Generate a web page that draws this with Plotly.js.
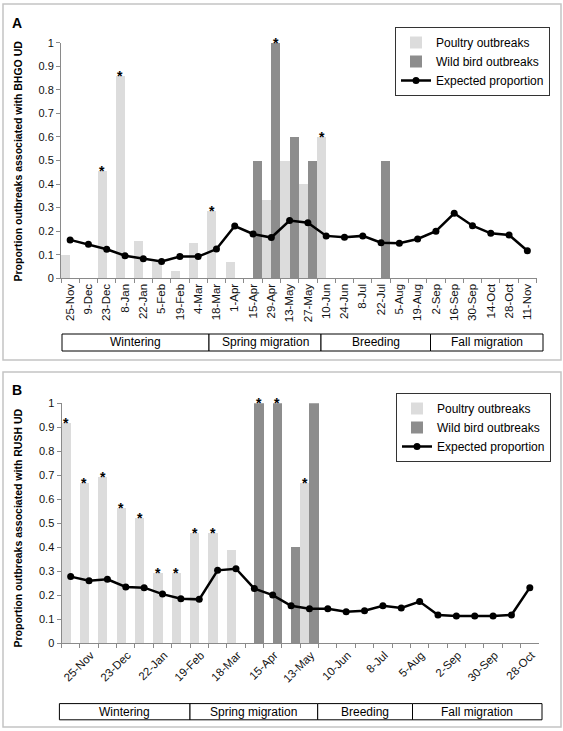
<!DOCTYPE html>
<html><head><meta charset="utf-8">
<script src="https://cdn.plot.ly/plotly-3.0.1.min.js"></script>
<style>html,body{margin:0;padding:0;background:#fff}#chart{width:563px;height:731px}</style>
</head><body><div id="chart"></div>
<script>
// ---------- data ----------
const categories = ['25-Nov','9-Dec','23-Dec','8-Jan','22-Jan','5-Feb','19-Feb','4-Mar','18-Mar','1-Apr','15-Apr','29-Apr','13-May','27-May','10-Jun','24-Jun','8-Jul','22-Jul','5-Aug','19-Aug','2-Sep','16-Sep','30-Sep','14-Oct','28-Oct','11-Nov'];

// Panel A (BHGO UD)
const poultryA  = [0.10,0,0.455,0.86,0.157,0.07,0.03,0.148,0.286,0.07,0,0.333,0.5,0.4,0.6,0,0,0,0,0,0,0,0,0,0,0];
const wildA     = [0,0,0,0,0,0,0,0,0,0,0.5,1.0,0.6,0.5,0,0,0,0.5,0,0,0,0,0,0,0,0];
const expectedA = [0.163,0.144,0.123,0.096,0.083,0.071,0.092,0.092,0.124,0.222,0.188,0.173,0.245,0.236,0.18,0.174,0.18,0.151,0.149,0.167,0.2,0.276,0.223,0.191,0.184,0.117];
const sigPoultryA = [0,0,1,1,0,0,0,0,1,0,0,0,0,0,1,0,0,0,0,0,0,0,0,0,0,0];
const sigWildA    = [0,0,0,0,0,0,0,0,0,0,0,1,0,0,0,0,0,0,0,0,0,0,0,0,0,0];

// Panel B (RUSH UD)
const poultryB  = [0.917,0.666,0.694,0.565,0.52,0.293,0.293,0.458,0.458,0.39,0,0,0,0.667,0,0,0,0,0,0,0,0,0,0,0,0];
const wildB     = [0,0,0,0,0,0,0,0,0,0,1.0,1.0,0.4,1.0,0,0,0,0,0,0,0,0,0,0,0,0];
const expectedB = [0.277,0.26,0.266,0.234,0.231,0.204,0.185,0.182,0.303,0.31,0.227,0.2,0.155,0.143,0.143,0.13,0.135,0.155,0.146,0.173,0.117,0.113,0.113,0.113,0.117,0.231];
const sigPoultryB = [1,1,1,1,1,1,1,1,1,0,0,0,0,1,0,0,0,0,0,0,0,0,0,0,0,0];
const sigWildB    = [0,0,0,0,0,0,0,0,0,0,1,1,0,0,0,0,0,0,0,0,0,0,0,0,0,0];

const seasons = ['Wintering','Spring migration','Breeding','Fall migration'];
const seriesNames = ['Poultry outbreaks','Wild bird outbreaks','Expected proportion'];
const yTitleA = 'Proportion outbreaks associated with BHGO UD';
const yTitleB = 'Proportion outbreaks associated with RUSH UD';

// ---------- styling / layout helpers ----------
const W = 563, H = 731;
const FONT = 'Liberation Sans, Arial, sans-serif';
const px = v => v / W;
const py = v => 1 - v / H;
const LIGHT = '#dcdcdc', DARK = '#8d8d8d', AXC = '#8a8a8a';

function traces(p, w, e, xa, ya, lg) {
  return [
    {type:'bar', name:seriesNames[0], x:categories, y:p, xaxis:xa, yaxis:ya, legend:lg,
     marker:{color:LIGHT, line:{width:0}}, hoverinfo:'skip'},
    {type:'bar', name:seriesNames[1], x:categories, y:w, xaxis:xa, yaxis:ya, legend:lg,
     marker:{color:DARK, line:{width:0}}, hoverinfo:'skip'},
    {type:'scatter', mode:'lines+markers', name:seriesNames[2], x:categories, y:e, xaxis:xa, yaxis:ya, legend:lg,
     line:{color:'#000', width:2.5}, marker:{color:'#000', size:7}, hoverinfo:'skip'}
  ];
}

function stars(vals, flags, off, xref, yref) {
  const out = [];
  flags.forEach((f, i) => {
    if (f) out.push({x: i + off, y: vals[i], xref, yref, text:'<b>*</b>', showarrow:false,
      xanchor:'center', yanchor:'middle', yshift:0, font:{family:FONT, size:14, color:'#000'}});
  });
  return out;
}

function seasonBoxes(edges, y0, y1) {
  const shapes = [], anns = [];
  for (let i = 0; i < seasons.length; i++) {
    shapes.push({type:'rect', xref:'paper', yref:'paper', x0:px(edges[i]), x1:px(edges[i+1]),
      y0:py(y1), y1:py(y0), line:{color:'#000', width:1}, fillcolor:'#fff', layer:'above'});
    anns.push({xref:'paper', yref:'paper', x:px((edges[i]+edges[i+1])/2), y:py((y0+y1)/2),
      text:seasons[i], showarrow:false, xanchor:'center', yanchor:'middle',
      font:{family:FONT, size:12, color:'#000'}});
  }
  return {shapes, anns};
}

const data = [
  ...traces(poultryA, wildA, expectedA, 'x', 'y', 'legend'),
  ...traces(poultryB, wildB, expectedB, 'x2', 'y2', 'legend2')
];

const sA = seasonBoxes([62, 209, 321, 430.5, 543], 334, 351);
const sB = seasonBoxes([59.4, 190, 317.7, 412.5, 542], 703.6, 719.8);

const frames = [
  {type:'rect', xref:'paper', yref:'paper', x0:px(3), x1:px(561), y0:py(360), y1:py(4), line:{color:'#c4c4c4', width:1.5}},
  {type:'rect', xref:'paper', yref:'paper', x0:px(3), x1:px(561), y0:py(727), y1:py(372), line:{color:'#c4c4c4', width:1.5}}
];

const annotations = [
  {xref:'paper', yref:'paper', x:px(17), y:py(23), xanchor:'center', yanchor:'middle', text:'<b>A</b>', showarrow:false, font:{family:FONT, size:14, color:'#000'}},
  {xref:'paper', yref:'paper', x:px(17), y:py(389.5), xanchor:'center', yanchor:'middle', text:'<b>B</b>', showarrow:false, font:{family:FONT, size:14, color:'#000'}},
  {xref:'paper', yref:'paper', x:px(17.5), y:py(161), xanchor:'center', yanchor:'middle', text:'<b>'+yTitleA+'</b>', textangle:-90, showarrow:false, font:{family:FONT, size:10.5, color:'#000'}},
  {xref:'paper', yref:'paper', x:px(17.5), y:py(528), xanchor:'center', yanchor:'middle', text:'<b>'+yTitleB+'</b>', textangle:-90, showarrow:false, font:{family:FONT, size:10.5, color:'#000'}},
  ...stars(poultryA, sigPoultryA, -0.25, 'x', 'y'),
  ...stars(wildA, sigWildA, 0.25, 'x', 'y'),
  ...stars(poultryB, sigPoultryB, -0.25, 'x2', 'y2'),
  ...stars(wildB, sigWildB, 0.25, 'x2', 'y2'),
  ...sA.anns, ...sB.anns
];

const xBase = {type:'category', tickson:'boundaries', ticks:'outside', ticklen:4, tickcolor:AXC,
  showline:true, linecolor:AXC, linewidth:1, showgrid:false, zeroline:false, range:[-0.5, 25.5],
  tickfont:{family:FONT, size:11.5, color:'#111'}, fixedrange:true};
const yBase = {range:[0,1], tick0:0, dtick:0.1, ticks:'outside', ticklen:4, tickcolor:AXC,
  showline:true, linecolor:AXC, linewidth:1, showgrid:false, zeroline:false,
  tickfont:{family:FONT, size:11, color:'#111'}, fixedrange:true};

const legendBase = {xanchor:'left', yanchor:'top', bgcolor:'#fff', bordercolor:'#333', borderwidth:1,
  font:{family:FONT, size:12, color:'#000'}, traceorder:'normal', itemwidth:30, tracegroupgap:0};

const layout = {
  width:W, height:H, autosize:false,
  margin:{l:0, r:0, t:0, b:0},
  paper_bgcolor:'#fff', plot_bgcolor:'#fff',
  font:{family:FONT, color:'#000'},
  barmode:'group', bargap:0, bargroupgap:0,
  showlegend:true,
  xaxis: Object.assign({}, xBase, {domain:[px(61), px(536.5)], anchor:'y', tickangle:-90}),
  yaxis: Object.assign({}, yBase, {domain:[py(278.3), py(42.7)], anchor:'x'}),
  xaxis2: Object.assign({}, xBase, {domain:[px(61.5), px(539)], anchor:'y2', tickangle:-45,
    tickmode:'array', tickvals:categories, ticktext:categories.map((c,i) => i % 2 === 0 ? c : ''),
    ticklabelshift:20}),
  yaxis2: Object.assign({}, yBase, {domain:[py(643), py(403.3)], anchor:'x2'}),
  legend: Object.assign({}, legendBase, {x:px(395), y:py(27)}),
  legend2: Object.assign({}, legendBase, {x:px(396), y:py(393)}),
  shapes: [...frames, ...sA.shapes, ...sB.shapes],
  annotations
};

Plotly.newPlot('chart', data, layout, {displayModeBar:false, staticPlot:true});
</script>
</body></html>
